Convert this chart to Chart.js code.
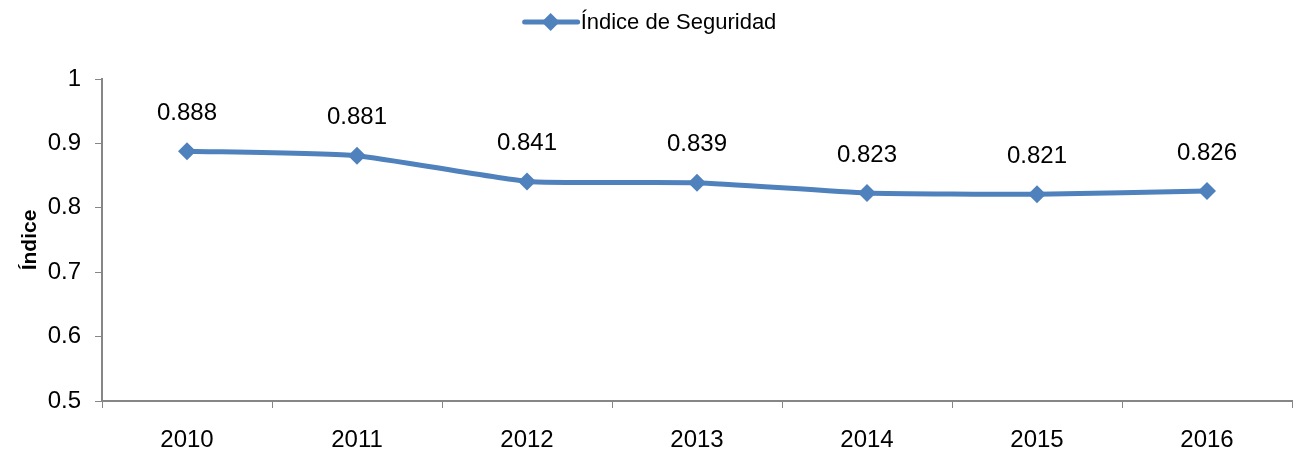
<!DOCTYPE html>
<html>
<head>
<meta charset="utf-8">
<script src="https://cdn.jsdelivr.net/npm/chart.js@4"></script>
<style>
  html, body { margin: 0; padding: 0; background: #fff; }
  #wrap { width: 1301px; height: 458px; }
</style>
</head>
<body>
<div id="wrap"><canvas id="chart" width="1301" height="458"></canvas></div>
<script>
// data
years = ["2010", "2011", "2012", "2013", "2014", "2015", "2016"];
indice = [0.888, 0.881, 0.841, 0.839, 0.823, 0.821, 0.826];
seriesName = "Índice de Seguridad";
yTicks = [0.5, 0.6, 0.7, 0.8, 0.9, 1];

lineColor = "#4F81BD";
axisColor = "#868686";
fontFam = "'Liberation Sans', Arial, sans-serif";

// values written above every point
labelPlugin = {
    id: 'pointLabels',
    afterDatasetsDraw(chart) {
        const ctx = chart.ctx;
        const meta = chart.getDatasetMeta(0);
        ctx.save();
        ctx.font = "24px " + fontFam;
        ctx.fillStyle = "#000";
        ctx.textAlign = "center";
        ctx.textBaseline = "middle";
        meta.data.forEach((pt, i) => {
            ctx.fillText(indice[i].toFixed(3), pt.x, pt.y - 38);
        });
        ctx.restore();
    }
};

// legend: line with a diamond, then the name
legendPlugin = {
    id: 'lineLegend',
    afterDraw(chart) {
        const ctx = chart.ctx;
        ctx.save();
        ctx.font = "22px " + fontFam;
        const tw = ctx.measureText(seriesName).width;
        const total = 53 + 3 + tw;
        const x0 = (chart.width - total) / 2;
        const y = 22;
        ctx.strokeStyle = lineColor;
        ctx.lineWidth = 5;
        ctx.lineCap = "round";
        ctx.beginPath();
        ctx.moveTo(x0, y);
        ctx.lineTo(x0 + 53, y);
        ctx.stroke();
        ctx.fillStyle = lineColor;
        ctx.beginPath();
        ctx.moveTo(x0 + 26, y - 9);
        ctx.lineTo(x0 + 35, y);
        ctx.lineTo(x0 + 26, y + 9);
        ctx.lineTo(x0 + 17, y);
        ctx.closePath();
        ctx.fill();
        ctx.fillStyle = "#000";
        ctx.textBaseline = "middle";
        ctx.fillText(seriesName, x0 + 56, y + 1);
        ctx.restore();
    }
};

new Chart("chart", {
    type: "line",
    data: {
        labels: years,
        datasets: [{
            label: seriesName,
            data: indice,
            borderColor: lineColor,
            backgroundColor: lineColor,
            borderWidth: 5,
            pointStyle: "rectRot",
            pointRadius: 9,
            pointBorderWidth: 0,
            tension: 0.15
        }]
    },
    options: {
        responsive: false,
        animation: false,
        devicePixelRatio: 1,
        layout: { padding: { top: 79, right: 5, left: 0, bottom: 0 } },
        plugins: {
            legend: { display: false },
            tooltip: { enabled: false }
        },
        scales: {
            x: {
                offset: true,
                grid: {
                    offset: true,
                    drawOnChartArea: false,
                    color: axisColor,
                    tickLength: 7,
                    tickColor: axisColor
                },
                border: { color: axisColor, width: 2 },
                ticks: {
                    color: "#000",
                    padding: 18,
                    font: { family: fontFam, size: 24 },
                    maxRotation: 0
                },
                afterFit(scale) { scale.height = 57; }
            },
            y: {
                min: 0.5,
                max: 1,
                afterBuildTicks(scale) {
                    scale.ticks = yTicks.map(v => ({ value: v }));
                },
                grid: {
                    drawOnChartArea: false,
                    color: axisColor,
                    tickLength: 7,
                    tickColor: axisColor
                },
                border: { color: axisColor, width: 2 },
                ticks: {
                    color: "#000",
                    padding: 14,
                    font: { family: fontFam, size: 24 },
                    callback: v => String(v)
                },
                title: {
                    display: true,
                    text: "Índice",
                    color: "#000",
                    font: { family: fontFam, size: 21, weight: "bold" },
                    padding: { top: 18, bottom: 0 }
                },
                afterFit(scale) { scale.width = 102; }
            }
        }
    },
    plugins: [labelPlugin, legendPlugin]
});
</script>
</body>
</html>
